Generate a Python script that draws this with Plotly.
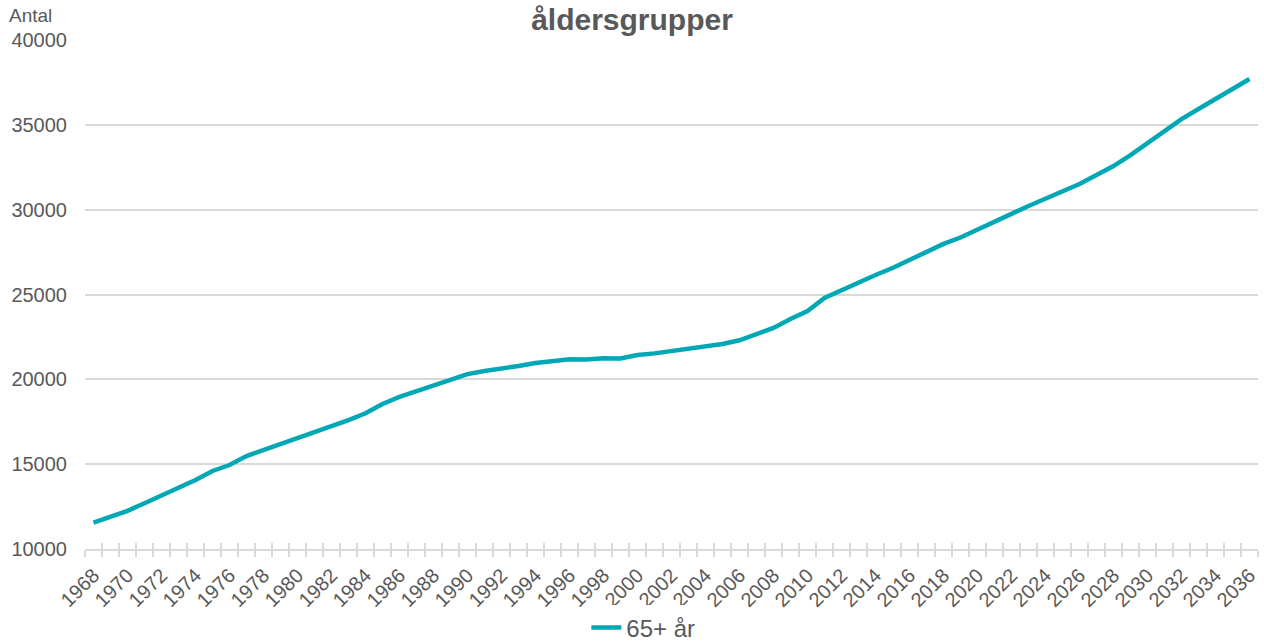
import plotly.graph_objects as go

years = list(range(1968, 2037))
values_65plus = [
    11550, 11900, 12250, 12700, 13150, 13600, 14070, 14600, 14950, 15480,
    15830, 16130, 16480, 16840, 17190, 17600, 18000, 18550, 18960, 19310,
    19670, 20020, 20310, 20490, 20670, 20790, 20960, 21080, 21180, 21170,
    21240, 21230, 21430, 21530, 21670, 21790, 21940, 22080, 22300, 22670,
    23030, 23560, 24030, 24800, 25260, 25680, 26150, 26560, 27030, 27500,
    27980, 28360, 28800, 29270, 29750, 30220, 30630, 31100, 31510, 32040,
    32570, 33220, 33930, 34580, 35340, 35930, 36520, 37170, 37700,
]
tick_years = years[::2]
tick_labels = [str(y) for y in tick_years]
boundaries = [y - 0.5 for y in years] + [years[-1] + 0.5]

GREY = "#595959"
GRID = "#d9d9d9"
FONT = "Liberation Sans, Arial, sans-serif"

fig = go.Figure()
fig.add_trace(go.Scatter(
    x=years, y=values_65plus, mode="lines", name="65+ år",
    line=dict(color="#00A8B5", width=4.5),
))
# invisible helper trace for the overlay axis that draws inward ticks
fig.add_trace(go.Scatter(
    x=[years[0]], y=[values_65plus[0]], xaxis="x2", mode="lines",
    showlegend=False, hoverinfo="skip", line=dict(width=0),
))

fig.update_layout(
    width=1264, height=644, autosize=False,
    paper_bgcolor="white", plot_bgcolor="white",
    margin=dict(l=85, r=6, t=40, b=95, autoexpand=False),
    font=dict(family=FONT, color=GREY, size=20),
    title=dict(text="<b>åldersgrupper</b>", x=0.5, xref="container", xanchor="center",
               y=1 - 19 / 644, yref="container", yanchor="middle",
               font=dict(size=30, color=GREY, family=FONT)),
    showlegend=True,
    legend=dict(orientation="h", x=0.476, xanchor="center",
                y=-0.155, yanchor="middle", font=dict(size=24, color=GREY)),
    xaxis=dict(
        range=[1967.5, 2036.5], tickmode="array", tickvals=tick_years, ticktext=tick_labels,
        tickangle=-45, showgrid=False, zeroline=False,
        showline=True, linecolor=GRID, linewidth=1.5,
        ticks="outside", ticklen=0, tickfont=dict(size=20, color=GREY),
        ticklabelstandoff=5,
        minor=dict(tickmode="array", tickvals=boundaries, ticks="outside", ticklen=6,
                   tickcolor=GRID, tickwidth=1.5, showgrid=False),
    ),
    xaxis2=dict(
        range=[1967.5, 2036.5], overlaying="x", anchor="y", side="bottom",
        tickmode="array", tickvals=boundaries, ticks="inside", ticklen=6,
        tickcolor=GRID, tickwidth=1.5, showticklabels=False, showgrid=False,
        zeroline=False, showline=False,
    ),
    yaxis=dict(
        range=[10000, 40000], dtick=5000, tickformat="d", showgrid=True,
        gridcolor=GRID, gridwidth=1.5,
        zeroline=False, showline=False, ticks="", tickfont=dict(size=20, color=GREY),
        ticklabelstandoff=17,
    ),
    annotations=[dict(
        text="Antal", xref="paper", yref="paper", x=(7 - 85) / 1173, y=(549 - 16) / 509,
        xanchor="left", yanchor="middle", showarrow=False,
        font=dict(size=19, color=GREY, family=FONT),
    )],
)

fig.write_html(
    "out.html",
    config={"displayModeBar": False},
    post_script="document.body.style.margin='0';document.body.style.overflow='hidden';",
)
